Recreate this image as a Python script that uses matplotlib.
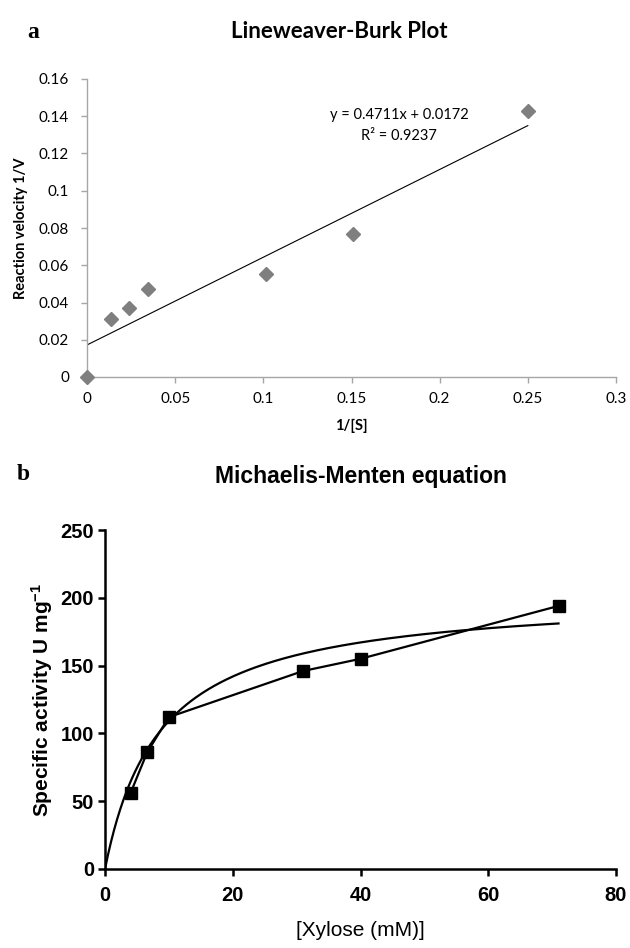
import numpy as np
import matplotlib
matplotlib.use("Agg")
import matplotlib.pyplot as plt

plt.rcParams['mathtext.fontset'] = 'custom'
plt.rcParams['mathtext.rm'] = 'Liberation Sans'
plt.rcParams['mathtext.bf'] = 'Liberation Sans:bold'

# panel a: Lineweaver-Burk (double reciprocal) points
inv_s = [0.0, 0.0134, 0.0236, 0.0345, 0.1016, 0.151, 0.25]
inv_v = [0.0, 0.031, 0.0368, 0.0475, 0.0554, 0.0768, 0.143]
lb_slope = 0.4711
lb_icpt = 0.0172
lb_r2 = 0.9237

# panel b: specific activity vs xylose
xylose = [4.0, 6.6, 10.0, 31.0, 40.0, 71.0]
activity = [56.0, 86.0, 112.0, 146.0, 155.0, 194.0]
mm_vmax = 203.0   # fitted curve as drawn
mm_km = 8.6

W, H = 630, 948
fig = plt.figure(figsize=(W / 100, H / 100), dpi=100)


def box(l, t, r, b):
    return [l / W, 1 - b / H, (r - l) / W, (b - t) / H]


# ---------------- panel a ----------------
fa = ['Lato', 'DejaVu Sans']
grey = '#A6A6A6'
ax = fig.add_axes(box(87, 79, 616, 377))
ax.plot(inv_s, inv_v, 'D', color='#7F7F7F', markersize=7, zorder=3,
        clip_on=False)
xl = np.array([0.0, max(inv_s)])
ax.plot(xl, lb_slope * xl + lb_icpt, color='black', lw=0.8)
ax.set_xlim(0, 0.3)
ax.set_ylim(0, 0.16)
ax.set_xticks([0, 0.05, 0.1, 0.15, 0.2, 0.25, 0.3])
ax.set_xticklabels(['0', '0.05', '0.1', '0.15', '0.2', '0.25', '0.3'])
ax.set_yticks(np.arange(0, 0.161, 0.02))
ax.set_yticklabels(['0', '0.02', '0.04', '0.06', '0.08', '0.1', '0.12',
                    '0.14', '0.16'])
for s in ['top', 'right']:
    ax.spines[s].set_visible(False)
for s in ['left', 'bottom']:
    ax.spines[s].set_color(grey)
    ax.spines[s].set_linewidth(1.0)
ax.tick_params(direction='out', length=4, width=1, color=grey,
               labelsize=11)
ax.tick_params(axis='y', pad=9)
ax.tick_params(axis='x', pad=7)
for lab in ax.get_xticklabels() + ax.get_yticklabels():
    lab.set_family(fa)
ax.set_xlabel('1/[S]', family=fa, fontsize=10.5, fontweight='bold',
              labelpad=9)
ax.set_ylabel('Reaction velocity 1/V', family=fa, fontsize=10.5,
              fontweight='bold', labelpad=8)
ax.text(0.177, 0.1405, 'y = %.4fx + %.4f' % (lb_slope, lb_icpt),
        family=fa, fontsize=10.5, ha='center', va='center')
ax.text(0.177, 0.1295, 'R\u00b2 = %.4f' % lb_r2, family=fa, fontsize=10.5,
        ha='center', va='center')
fig.text(339 / W, 1 - 32 / H, 'Lineweaver-Burk Plot', family=fa,
         fontsize=16, fontweight='bold', ha='center', va='center')
fig.text(33 / W, 1 - 32 / H, 'a', family='Liberation Serif', fontsize=17,
         fontweight='bold', ha='center', va='center')

# ---------------- panel b ----------------
fb = ['Liberation Sans', 'DejaVu Sans']
bx = fig.add_axes(box(105, 530, 616, 869))
xc = np.linspace(0, max(xylose), 300)
bx.plot(xc, mm_vmax * xc / (mm_km + xc), color='black', lw=1.6)
bx.plot(xylose, activity, 's-', color='black', lw=1.6, markersize=9)
bx.set_xlim(0, 80)
bx.set_ylim(0, 250)
bx.set_xticks([0, 20, 40, 60, 80])
bx.set_yticks([0, 50, 100, 150, 200, 250])
for s in ['top', 'right']:
    bx.spines[s].set_visible(False)
for s in ['left', 'bottom']:
    bx.spines[s].set_linewidth(1.8)
bx.tick_params(direction='out', length=5, width=1.8, labelsize=14.5)
bx.tick_params(axis='y', pad=3)
bx.tick_params(axis='x', pad=7)
for lab in bx.get_xticklabels() + bx.get_yticklabels():
    lab.set_family(fb)
    lab.set_fontweight('bold')
bx.set_xlabel('[Xylose (mM)]', family=fb, fontsize=15, labelpad=12)
bx.set_ylabel('Specific activity U mg$\\mathbf{^{-1}}$', family=fb,
              fontsize=15, fontweight='bold', labelpad=4)
fig.text(361 / W, 1 - 477 / H, 'Michaelis-Menten equation', family=fb,
         fontsize=16.5, fontweight='bold', ha='center', va='center')
fig.text(23 / W, 1 - 474 / H, 'b', family='Liberation Serif', fontsize=17,
         fontweight='bold', ha='center', va='center')

fig.savefig('out.png', dpi=100)
